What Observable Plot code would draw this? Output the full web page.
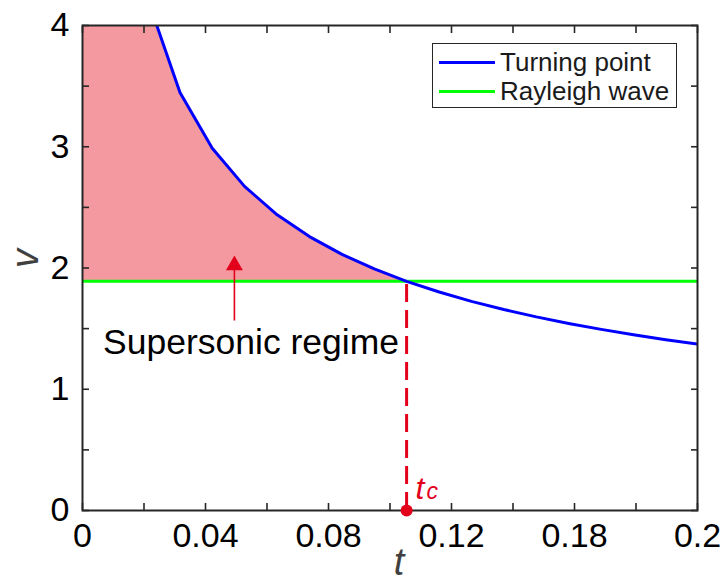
<!DOCTYPE html>
<html>
<head>
<meta charset="utf-8">
<script src="https://cdn.jsdelivr.net/npm/d3@7"></script>
<script src="https://cdn.jsdelivr.net/npm/@observablehq/plot@0.6"></script>
<style>
  html, body { margin: 0; padding: 0; background: #fff; }
  #wrap { position: relative; width: 725px; height: 585px; font-family: Arial, "Liberation Sans", sans-serif; }
  #legend { position: absolute; left: 432px; top: 43px; width: 243px; height: 63px; border: 1.3px solid #262626; background: #fff; box-sizing: content-box; }
  .row { position: absolute; left: 0; height: 30px; display: flex; align-items: center; font-size: 26px; color: #1a1a1a; white-space: nowrap; }
  .sw { width: 56px; height: 3px; margin-left: 6px; margin-right: 5px; }
</style>
</head>
<body>
<div id="wrap"></div>
<script>
// ---- data ----
const tValues   = [0.0211, 0.0317, 0.0422, 0.0527, 0.0633, 0.0738, 0.0844, 0.0949, 0.1054, 0.1160, 0.1265, 0.1370, 0.1476, 0.1581, 0.1687, 0.1792, 0.1897, 0.2000];
const vTurning  = [4.225, 3.447, 2.987, 2.673, 2.439, 2.259, 2.112, 1.992, 1.890, 1.802, 1.725, 1.658, 1.597, 1.543, 1.494, 1.450, 1.409, 1.372];
const rayleighV = 1.89;
const tc = 0.1054;
const xTickPos    = [0, 0.02, 0.04, 0.06, 0.08, 0.10, 0.12, 0.14, 0.16, 0.18, 0.20];
const xLabelPos   = [0, 0.04, 0.08, 0.12, 0.16, 0.20];
const xTickLabels = ["0", "0.04", "0.08", "0.12", "0.18", "0.2"];
const yTickPos    = [0, 0.5, 1, 1.5, 2, 2.5, 3, 3.5, 4];
const yLabelPos   = [0, 1, 2, 3, 4];
const yTickLabels = ["0", "1", "2", "3", "4"];
const seriesNames = ["Turning point", "Rayleigh wave"];
const annotation  = {text: "Supersonic regime", t: 0.0548, v: 1.287, arrowT: 0.0494, arrowFrom: 1.567, arrowTo: 1.988, headV: 2.022};

const turning = tValues.map((t, i) => ({t, v: vTurning[i]}));
const fillData = [{t: 0, v: vTurning[0]}, ...turning.filter(d => d.t <= tc + 1e-9)];

const red = "#e3001b";
const blue = "#0000ff";
const green = "#00ff00";
const axisCol = "#262626";
const font = "Arial, 'Liberation Sans', sans-serif";

const labelFor = (pos, labels) => d => {
  const i = pos.findIndex(p => Math.abs(p - d) < 1e-9);
  return i < 0 ? "" : labels[i];
};

const chart = Plot.plot({
  width: 725,
  height: 585,
  marginLeft: 82,
  marginRight: 28,
  marginTop: 25,
  marginBottom: 75,
  x: {domain: [0, 0.2]},
  y: {domain: [0, 4]},
  style: {fontFamily: font, background: "transparent", overflow: "visible"},
  marks: [
    Plot.areaY(fillData, {x: "t", y1: () => rayleighV, y2: "v", fill: "#f4999f", clip: true}),
    Plot.ruleY([rayleighV], {stroke: green, strokeWidth: 3}),
    Plot.line(turning, {x: "t", y: "v", stroke: blue, strokeWidth: 3, clip: true}),
    Plot.ruleX([tc], {y1: 0, y2: rayleighV, stroke: red, strokeWidth: 3, strokeDasharray: "18,8"}),
    Plot.link([annotation], {x1: "arrowT", x2: "arrowT", y1: "arrowFrom", y2: "arrowTo", stroke: red, strokeWidth: 1.6}),
    Plot.dot([annotation], {x: "arrowT", y: "headV", symbol: "triangle", r: 6.3, fill: red, stroke: "none"}),
    Plot.text([annotation], {x: "t", y: "v", text: "text", fontSize: 35.5, lineAnchor: "bottom", fill: "#000"}),
    Plot.frame({stroke: axisCol, strokeWidth: 2}),
    // inward ticks on all four sides
    Plot.axisX({anchor: "bottom", ticks: xTickPos, tickSize: -7, tickFormat: () => "", stroke: axisCol, strokeWidth: 1.6, label: null}),
    Plot.axisX({anchor: "top", ticks: xTickPos, tickSize: -7, tickFormat: () => "", stroke: axisCol, strokeWidth: 1.6, label: null}),
    Plot.axisY({anchor: "left", ticks: yTickPos, tickSize: -7, tickFormat: () => "", stroke: axisCol, strokeWidth: 1.6, label: null}),
    Plot.axisY({anchor: "right", ticks: yTickPos, tickSize: -7, tickFormat: () => "", stroke: axisCol, strokeWidth: 1.6, label: null}),
    // tick labels
    Plot.axisX({anchor: "bottom", ticks: xLabelPos, tickSize: 0, tickPadding: 12, tickFormat: labelFor(xLabelPos, xTickLabels), fontSize: 34, fill: "#000", label: null}),
    Plot.axisY({anchor: "left", ticks: yLabelPos, tickSize: 0, tickPadding: 13, tickFormat: labelFor(yLabelPos, yTickLabels), fontSize: 34, fill: "#000", label: null}),
    // axis titles
    Plot.text(["v"], {frameAnchor: "left", dx: -57, rotate: -90, fontSize: 38, fontStyle: "italic", fill: "#404040", text: d => d}),
    Plot.text(["t"], {frameAnchor: "bottom", dx: 9, dy: 64, fontSize: 38, fontStyle: "italic", fill: "#404040", text: d => d}),
    // t_c marker and label
    Plot.dot([tc], {x: d => d, y: () => 0, r: 6, fill: red, stroke: "none"}),
    Plot.text([tc], {x: d => d, y: () => 0, text: () => "t", dx: 9, dy: -12, textAnchor: "start", lineAnchor: "bottom", fontSize: 32, fontStyle: "italic", fill: red}),
    Plot.text([tc], {x: d => d, y: () => 0, text: () => "c", dx: 20, dy: -12, textAnchor: "start", lineAnchor: "bottom", fontSize: 23, fontStyle: "italic", fill: red})
  ]
});

const wrap = document.getElementById("wrap");
wrap.appendChild(chart);

// legend
const legend = document.createElement("div");
legend.id = "legend";
[[seriesNames[0], blue, 3], [seriesNames[1], green, 32]].forEach(([name, col, top]) => {
  const row = document.createElement("div");
  row.className = "row";
  row.style.top = top + "px";
  const sw = document.createElement("div");
  sw.className = "sw";
  sw.style.background = col;
  const tx = document.createElement("span");
  tx.textContent = name;
  row.appendChild(sw);
  row.appendChild(tx);
  legend.appendChild(row);
});
wrap.appendChild(legend);
</script>
</body>
</html>
